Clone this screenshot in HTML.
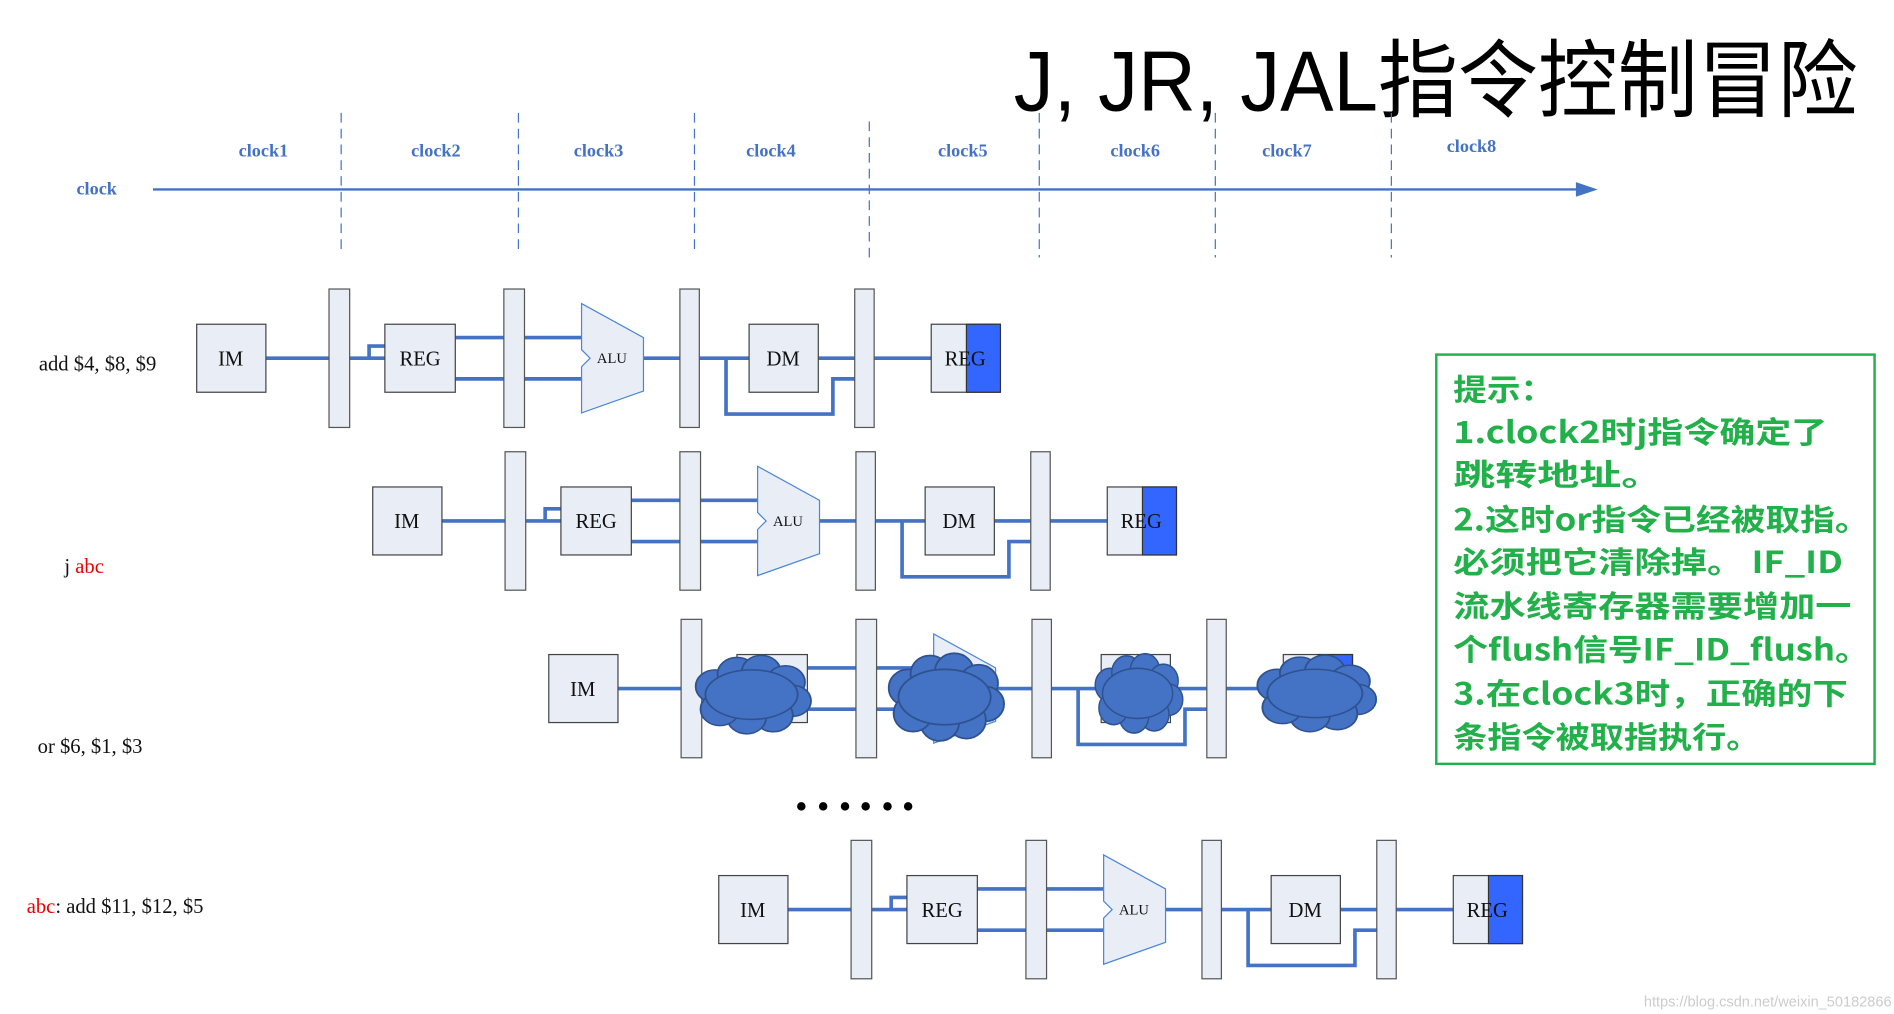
<!DOCTYPE html>
<html><head><meta charset="utf-8"><style>
html,body{margin:0;padding:0;background:#fff;width:1894px;height:1014px;overflow:hidden}
svg{display:block}
.clk{font-family:"Liberation Serif",serif;font-weight:bold;font-size:15px;fill:#4472c4}
.box{fill:#e8edf6;stroke:#444;stroke-width:1}
.lat{fill:#e8edf6;stroke:#555;stroke-width:1}
.w{stroke:#4472c4;stroke-width:3;fill:none}
.lbl{font-family:"Liberation Serif",serif;font-size:17px;fill:#111}
.tip{font-family:"Noto Sans CJK SC","WenQuanYi Zen Hei",sans-serif;font-weight:bold;font-size:25px;fill:#22b04a}
.cl{fill:#4472c4;stroke:#2f528f;stroke-width:1.5}
</style></head><body>
<svg width="1894" height="1014" viewBox="0 0 1560 835" preserveAspectRatio="none" xmlns="http://www.w3.org/2000/svg">
<defs>
<g id="row">
  <path class="w" d="M219 295H271M288 295H317M304 295V285H317M375 278H415M375 312H415M432 278H479M432 312H479M530 295H560M576 295H617M598 295V341H686V312H704M674 295H704M720 295H767"/>
  <rect class="lat" x="271" y="238" width="17" height="114"/>
  <rect class="lat" x="415" y="238" width="17" height="114"/>
  <rect class="lat" x="560" y="238" width="16" height="114"/>
  <rect class="lat" x="704" y="238" width="16" height="114"/>
  <rect class="box" x="162" y="267" width="57" height="56"/>
  <rect class="box" x="317" y="267" width="58" height="56"/>
  <polygon points="479,250 530,278 530,322 479,340 479,302 486,295 479,288" fill="#e8edf6" stroke="#4a86d8" stroke-width="1"/>
  <rect class="box" x="617" y="267" width="57" height="56"/>
  <rect class="box" x="767" y="267" width="57" height="56"/>
  <rect x="796" y="267" width="28" height="56" fill="#3366ff" stroke="#333" stroke-width="1"/>
</g>
<g id="cloud">
  <circle cx="-30" cy="-8" r="16"/><circle cx="-12" cy="-20" r="16"/><circle cx="8" cy="-22" r="16"/><circle cx="28" cy="-12" r="16"/>
  <circle cx="34" cy="6" r="15"/><circle cx="18" cy="20" r="16"/><circle cx="-4" cy="22" r="16"/><circle cx="-26" cy="14" r="16"/>
  <ellipse cx="0" cy="0" rx="38" ry="24"/>
</g>
</defs>

<text x="835" y="91" font-family="'Liberation Sans','Noto Sans CJK SC',sans-serif" font-size="70" textLength="695" lengthAdjust="spacingAndGlyphs" fill="#000">J, JR, JAL指令控制冒险</text>

<line x1="126" y1="156" x2="1302" y2="156" stroke="#4472c4" stroke-width="2"/>
<polygon points="1298,150 1316,156 1298,162" fill="#4472c4"/>
<text class="clk" x="63" y="160">clock</text>
<g stroke="#4472c4" stroke-width="1" stroke-dasharray="8,5">
<line x1="281" y1="93" x2="281" y2="208"/><line x1="427" y1="93" x2="427" y2="208"/><line x1="572" y1="93" x2="572" y2="208"/>
<line x1="716" y1="100" x2="716" y2="216"/><line x1="856" y1="93" x2="856" y2="212"/><line x1="1001" y1="93" x2="1001" y2="212"/><line x1="1146" y1="93" x2="1146" y2="212"/>
</g>
<g class="clk" text-anchor="middle">
<text x="217" y="129">clock1</text><text x="359" y="129">clock2</text><text x="493" y="129">clock3</text><text x="635" y="129">clock4</text>
<text x="793" y="129">clock5</text><text x="935" y="129">clock6</text><text x="1060" y="129">clock7</text><text x="1212" y="125">clock8</text>
</g>

<use href="#row"/>
<use href="#row" transform="translate(145,134)"/>
<use href="#row" transform="translate(290,272)"/>
<use href="#row" transform="translate(430,454)"/>

<g class="lbl" text-anchor="middle">
<text x="190" y="301">IM</text><text x="346" y="301">REG</text><text x="645" y="301">DM</text><text x="795" y="301">REG</text>
<text x="335" y="435">IM</text><text x="491" y="435">REG</text><text x="790" y="435">DM</text><text x="940" y="435">REG</text>
<text x="480" y="573">IM</text>
<text x="620" y="755">IM</text><text x="776" y="755">REG</text><text x="1075" y="755">DM</text><text x="1225" y="755">REG</text>
</g>
<g font-family="'Liberation Serif',serif" font-size="12" fill="#111" text-anchor="middle">
<text x="504" y="299">ALU</text><text x="649" y="433">ALU</text><text x="934" y="753">ALU</text>
</g>

<g class="cl">
<use href="#cloud" transform="translate(619,572) scale(1.0,0.85)"/>
<use href="#cloud" transform="translate(778,574) scale(1.0,0.95)"/>
<use href="#cloud" transform="translate(937,571) scale(0.76,0.86)"/>
<use href="#cloud" transform="translate(1083,571) scale(1.03,0.83)"/>
</g>

<g class="lbl" font-size="16">
<text x="32" y="305">add  $4, $8, $9</text>
<text x="53" y="472">j  <tspan fill="#e00">abc</tspan></text>
<text x="31" y="620">or  $6, $1, $3</text>
<text x="22" y="752"><tspan fill="#e00">abc</tspan>:  add $11, $12, $5</text>
</g>

<g fill="#000">
<circle cx="660" cy="664" r="3.5"/><circle cx="678" cy="664" r="3.5"/><circle cx="696" cy="664" r="3.5"/>
<circle cx="713" cy="664" r="3.5"/><circle cx="731" cy="664" r="3.5"/><circle cx="748" cy="664" r="3.5"/>
</g>

<rect x="1183" y="292" width="361" height="337" fill="#fff" stroke="#22b04a" stroke-width="2"/>
<g class="tip">
<text x="1197" y="330" textLength="83" lengthAdjust="spacingAndGlyphs">提示：</text>
<text x="1197" y="365" textLength="308" lengthAdjust="spacingAndGlyphs">1.clock2时j指令确定了</text>
<text x="1197" y="400" textLength="173" lengthAdjust="spacingAndGlyphs">跳转地址。</text>
<text x="1197" y="437" textLength="343" lengthAdjust="spacingAndGlyphs">2.这时or指令已经被取指。</text>
<text x="1197" y="472" textLength="321" lengthAdjust="spacingAndGlyphs">必须把它清除掉。 IF_ID</text>
<text x="1197" y="508" textLength="328" lengthAdjust="spacingAndGlyphs">流水线寄存器需要增加一</text>
<text x="1197" y="544" textLength="343" lengthAdjust="spacingAndGlyphs">个flush信号IF_ID_flush。</text>
<text x="1197" y="580" textLength="325" lengthAdjust="spacingAndGlyphs">3.在clock3时，正确的下</text>
<text x="1197" y="616" textLength="253" lengthAdjust="spacingAndGlyphs">条指令被取指执行。</text>
</g>

<text x="1558" y="829" text-anchor="end" font-family="'Liberation Sans',sans-serif" font-size="12" fill="#ccc">https://blog.csdn.net/weixin_50182866</text>
</svg>
</body></html>
